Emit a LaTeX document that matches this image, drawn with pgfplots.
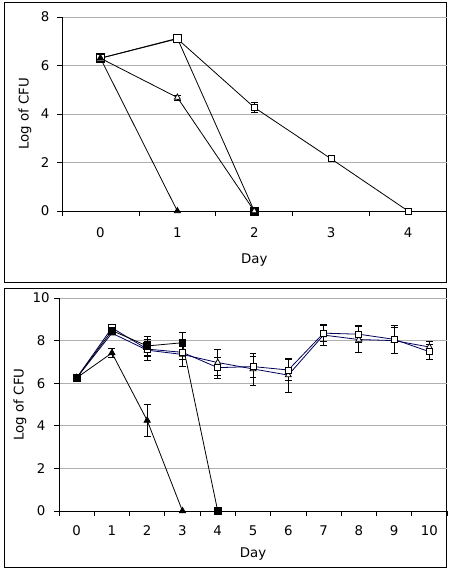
\documentclass[border=0pt]{standalone}
\usepackage{pgfplots}
\pgfplotsset{compat=1.18}
\usepackage{fontspec}
\setmainfont{DejaVu Sans}
\definecolor{navy}{RGB}{0,0,90}
\definecolor{gridgray}{RGB}{175,175,175}
\newcommand{\chartfont}{\fontsize{10}{12}\selectfont}
\begin{document}
\begin{tikzpicture}[font=\chartfont]
\path (0,0) rectangle (338.25pt,-430.5pt);
\draw[line width=0.75pt] (3pt,-2.25pt) rectangle (334.5pt,-211.5pt);
\draw[line width=0.75pt] (3pt,-216pt) rectangle (334.5pt,-425.25pt);
\pgfplotsset{
  myax/.style={
    scale only axis, clip=false,
    axis x line=bottom, axis y line=left,
    axis line style={-, black, line width=0.6pt},
    ymajorgrids, grid style={gridgray, line width=0.6pt},
    tick align=outside,
    major tick length=0pt, minor tick length=3.75pt,
    minor tick style={black, line width=0.6pt},
    /pgf/number format/assume math mode=true,
    tick label style={font=\chartfont},
    label style={font=\chartfont},
    every axis plot/.append style={line width=0.6pt},
    error bars/error bar style={black, line width=0.6pt},
    error bars/error mark options={rotate=90, mark size=2.6pt, black, line width=0.6pt},
  },
}
% ---------------- top panel ----------------
\begin{axis}[myax,
  at={(46.5pt,-158.25pt)}, anchor=south west,
  width=288.4pt, height=145.5pt,
  xmin=-0.5, xmax=4.5, ymin=0, ymax=8,
  xtick={0,1,2,3,4},
  minor xtick={-0.5,0.5,1.5,2.5,3.5,4.5},
  ytick={0,2,4,6,8}, minor ytick={0,2,4,6,8},
  xticklabel style={anchor=center, yshift=-16.5pt},
  yticklabel style={anchor=center, xshift=-12.75pt},
  xlabel={Day}, ylabel={Log of CFU},
  xlabel style={at={(axis description cs:0.5,-0.2526)}, anchor=center},
  ylabel style={at={(axis description cs:-0.0962,0.5)}, anchor=center},
]
% open square
\addplot[black, mark=square*, mark options={fill=white, mark size=2.25pt, solid},
  error bars/.cd, y dir=both, y explicit]
  coordinates {(0,6.3) (1,7.1) +- (0,0.08) (2,4.27) +- (0,0.22) (3,2.15) +- (0,0.1) (4,0)};
% bold open square -> 0
\addplot[black, mark=square*, mark indices={1,2}, mark options={fill=white, mark size=3pt, line width=1.2pt, solid}]
  coordinates {(0,6.3) (1,7.12) (2,0)};
\addplot[only marks, black, mark=square*, mark options={fill=black, mark size=3pt}]
  coordinates {(2,0)};
% open triangle
\addplot[black, mark=triangle*, mark options={fill=white, mark size=2.6pt, solid},
  error bars/.cd, y dir=both, y explicit]
  coordinates {(0,6.3) (1,4.68) +- (0,0.1) (2,0)};
% filled triangle
\addplot[black, mark=triangle*, mark options={fill=black, mark size=2.6pt, solid}]
  coordinates {(0,6.3) (1,0)};
\end{axis}
% ---------------- bottom panel ----------------
\begin{axis}[myax,
  at={(44.25pt,-383.25pt)}, anchor=south west,
  width=291pt, height=159.75pt,
  xmin=-0.5, xmax=10.5, ymin=0, ymax=10,
  xtick={0,1,2,3,4,5,6,7,8,9,10},
  minor xtick={-0.5,0.5,1.5,2.5,3.5,4.5,5.5,6.5,7.5,8.5,9.5,10.5},
  ytick={0,2,4,6,8,10}, minor ytick={0,2,4,6,8,10},
  xticklabel style={anchor=center, yshift=-15pt},
  yticklabel style={anchor=center, xshift=-13.4pt},
  xlabel={Day}, ylabel={Log of CFU},
  xlabel style={at={(axis description cs:0.5,-0.2019)}, anchor=center},
  ylabel style={at={(axis description cs:-0.1005,0.5)}, anchor=center},
]
% open triangle
\addplot[navy, mark=triangle*, mark options={draw=black, fill=white, mark size=2.6pt, solid},
  error bars/.cd, y dir=both, y explicit]
  coordinates {(0,6.25) (1,8.35) (2,7.55) +- (0,0.5) (3,7.35) +- (0,0.55) (4,6.97) +- (0,0.6)
    (5,6.67) +- (0,0.75) (6,6.38) +- (0,0.8) (7,8.26) +- (0,0.5) (8,8.05) +- (0,0.62)
    (9,8.0) +- (0,0.6) (10,7.7) +- (0,0.27)};
% open square
\addplot[navy, mark=square*, mark options={draw=black, fill=white, mark size=2.3pt, solid},
  error bars/.cd, y dir=both, y explicit]
  coordinates {(0,6.25) (1,8.6) (2,7.6) +- (0,0.35) (3,7.45) +- (0,0.35) (4,6.73) +- (0,0.5)
    (5,6.78) +- (0,0.5) (6,6.62) +- (0,0.5) (7,8.35) +- (0,0.38) (8,8.3) +- (0,0.4)
    (9,8.06) +- (0,0.67) (10,7.48) +- (0,0.35)};
% filled triangle
\addplot[black, mark=triangle*, mark options={fill=black, mark size=2.7pt, solid},
  error bars/.cd, y dir=both, y explicit]
  coordinates {(0,6.25) (1,7.42) +- (0,0.2) (2,4.25) +- (0,0.75) (3,0)};
% filled square
\addplot[black, mark=square*, mark options={fill=black, mark size=2.5pt, solid},
  error bars/.cd, y dir=both, y explicit]
  coordinates {(0,6.25) (1,8.47) +- (0,0.1) (2,7.75) +- (0,0.45) (3,7.9) +- (0,0.47) (4,0)};
\end{axis}
\end{tikzpicture}
\end{document}
